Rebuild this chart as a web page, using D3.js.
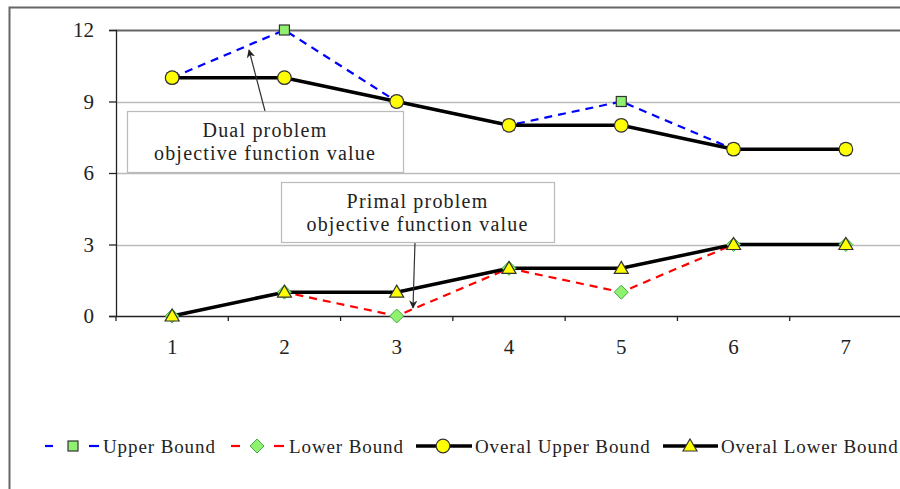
<!DOCTYPE html>
<html>
<head>
<meta charset="utf-8">
<script src="https://d3js.org/d3.v7.min.js"></script>
<style>
  body { margin: 0; background: #fff; }
  svg text { font-family: "Liberation Serif", "DejaVu Serif", serif; fill: #222; }
</style>
</head>
<body>
<div id="chart"></div>
<script>
// Data
var iterations = ["1", "2", "3", "4", "5", "6", "7"];
var upperBound = [10, 12, 9, 8, 9, 7, 7];
var lowerBound = [0, 1, 0, 2, 1, 3, 3];
var overalUpper = [10, 10, 9, 8, 8, 7, 7];
var overalLower = [0, 1, 1, 2, 2, 3, 3];
var yTicks = [0, 3, 6, 9, 12];

var width = 900,
    height = 489,
    plot = { left: 116, top: 30, right: 902, bottom: 316 };

var svg = d3.select("#chart").append("svg")
    .attr("width", width)
    .attr("height", height);

// outer frame (runs off the right / bottom edge like the original)
svg.append("rect")
    .attr("x", 9.5).attr("y", 7.5)
    .attr("width", 1000).attr("height", 1000)
    .attr("fill", "none")
    .attr("stroke", "#666")
    .attr("stroke-width", 2);

var x = d3.scaleBand()
    .domain(iterations)
    .range([plot.left, plot.right]);

var y = d3.scaleLinear()
    .domain([0, 12])
    .range([plot.bottom, plot.top]);

// gridlines
svg.append("g")
  .selectAll("line")
  .data(yTicks.filter(function(d) { return d > 0; }))
  .enter().append("line")
    .attr("x1", plot.left).attr("x2", width)
    .attr("y1", function(d) { return Math.round(y(d)) + 0.5; })
    .attr("y2", function(d) { return Math.round(y(d)) + 0.5; })
    .attr("stroke", function(d) { return d === 12 ? "#666" : "#bbb"; })
    .attr("stroke-width", function(d) { return d === 12 ? 2 : 1.5; });

// y axis
var yAxis = svg.append("g")
    .attr("transform", "translate(" + plot.left + ",0)")
    .call(d3.axisLeft(y).tickValues(yTicks).tickSize(7).tickPadding(15))
    .attr("font-size", 21)
    .attr("font-family", null);
yAxis.selectAll("line, path").attr("stroke", "#222").attr("stroke-width", 1.3);

// x axis
var xAxis = svg.append("g")
    .attr("transform", "translate(0," + plot.bottom + ")")
    .call(d3.axisBottom(x).tickSize(0).tickPadding(23))
    .attr("font-size", 21)
    .attr("font-family", null);
xAxis.select("path").attr("stroke", "#222").attr("stroke-width", 1.3);
// ticks between categories
xAxis.selectAll("line.between")
  .data(iterations)
  .enter().append("line")
    .attr("class", "between")
    .attr("x1", function(d) { return x(d); })
    .attr("x2", function(d) { return x(d); })
    .attr("y1", 0).attr("y2", 5)
    .attr("stroke", "#222").attr("stroke-width", 1.3);

var cx = function(d, i) { return x(iterations[i]) + x.bandwidth() / 2; };
var line = d3.line()
    .x(function(d, i) { return cx(d, i); })
    .y(function(d) { return y(d); });

// series lines
svg.append("path").datum(upperBound)
    .attr("d", line).attr("fill", "none")
    .attr("stroke", "#0000ff").attr("stroke-width", 2.2)
    .attr("stroke-dasharray", "8,6");
svg.append("path").datum(lowerBound)
    .attr("d", line).attr("fill", "none")
    .attr("stroke", "#ff0000").attr("stroke-width", 2.2)
    .attr("stroke-dasharray", "8,6");
svg.append("path").datum(overalUpper)
    .attr("d", line).attr("fill", "none")
    .attr("stroke", "#000").attr("stroke-width", 3.5);
svg.append("path").datum(overalLower)
    .attr("d", line).attr("fill", "none")
    .attr("stroke", "#000").attr("stroke-width", 3.5);

var greenFill = "#90f070",
    yellowFill = "#ffff00",
    markStroke = "#333";

function square(g, px, py) {
  g.append("rect")
      .attr("x", px - 5).attr("y", py - 5)
      .attr("width", 10).attr("height", 10)
      .attr("fill", greenFill).attr("stroke", markStroke).attr("stroke-width", 1.2);
}
function diamond(g, px, py) {
  g.append("path")
      .attr("d", "M" + px + "," + (py - 7) + "L" + (px + 7) + "," + py + "L" + px + "," + (py + 7) + "L" + (px - 7) + "," + py + "Z")
      .attr("fill", greenFill).attr("stroke", "#4a4").attr("stroke-width", 1);
}
function dot(g, px, py) {
  g.append("circle")
      .attr("cx", px).attr("cy", py).attr("r", 6.8)
      .attr("fill", yellowFill).attr("stroke", markStroke).attr("stroke-width", 1.2);
}
function tri(g, px, py) {
  g.append("path")
      .attr("d", "M" + px + "," + (py - 7) + "L" + (px + 7) + "," + (py + 5) + "L" + (px - 7) + "," + (py + 5) + "Z")
      .attr("fill", yellowFill).attr("stroke", markStroke).attr("stroke-width", 1.2);
}

var marks = svg.append("g");
upperBound.forEach(function(d, i) { square(marks, cx(d, i), y(d)); });
lowerBound.forEach(function(d, i) { diamond(marks, cx(d, i), y(d)); });
overalUpper.forEach(function(d, i) { dot(marks, cx(d, i), y(d)); });
overalLower.forEach(function(d, i) { tri(marks, cx(d, i), y(d)); });

// annotation callouts
svg.append("defs").append("marker")
    .attr("id", "arrow")
    .attr("viewBox", "0 0 10 10")
    .attr("refX", 9).attr("refY", 5)
    .attr("markerWidth", 7).attr("markerHeight", 7)
    .attr("orient", "auto")
  .append("path")
    .attr("d", "M0,0L10,5L0,10L3,5Z")
    .attr("fill", "#222");

function callout(bx, by, bw, bh, lines, ax1, ay1, ax2, ay2) {
  svg.append("line")
      .attr("x1", ax1).attr("y1", ay1).attr("x2", ax2).attr("y2", ay2)
      .attr("stroke", "#333").attr("stroke-width", 1.2)
      .attr("marker-end", "url(#arrow)");
  svg.append("rect")
      .attr("x", bx + 0.5).attr("y", by + 0.5)
      .attr("width", bw).attr("height", bh)
      .attr("fill", "#fff").attr("stroke", "#bbb").attr("stroke-width", 1.2);
  svg.append("text")
      .attr("x", bx + bw / 2).attr("y", by + 26)
      .attr("text-anchor", "middle")
      .style("font-size", "20px")
      .style("letter-spacing", "1.2px")
    .selectAll("tspan")
    .data(lines)
    .enter().append("tspan")
      .attr("x", bx + bw / 2)
      .attr("dy", function(d, i) { return i === 0 ? 0 : 23; })
      .text(function(d) { return d; });
}

callout(127, 111, 276, 61, ["Dual problem", "objective function value"],
        265, 111, 249, 50);
callout(281, 182, 273, 60, ["Primal problem", "objective function value"],
        415, 242, 413, 308);

// legend
var legend = svg.append("g").attr("transform", "translate(0,446)");
function legText(px, label) {
  legend.append("text")
      .attr("x", px).attr("y", 6.5)
      .style("font-size", "19px")
      .style("letter-spacing", "0.9px")
      .text(label);
}
function dashSeg(x1, x2, color) {
  legend.append("line")
      .attr("x1", x1).attr("x2", x2).attr("y1", 0).attr("y2", 0)
      .attr("stroke", color).attr("stroke-width", 2.2);
}
dashSeg(45, 53, "#0000ff");
square(legend, 73, 0);
dashSeg(89, 99, "#0000ff");
legText(103, "Upper Bound");

dashSeg(231, 240, "#ff0000");
diamond(legend, 257, 0);
dashSeg(274, 284, "#ff0000");
legText(289, "Lower Bound");

legend.append("line").attr("x1", 416).attr("x2", 472)
    .attr("stroke", "#000").attr("stroke-width", 3.5);
dot(legend, 443, 0);
legText(475, "Overal Upper Bound");

legend.append("line").attr("x1", 663).attr("x2", 718)
    .attr("stroke", "#000").attr("stroke-width", 3.5);
tri(legend, 690, 0);
legText(721, "Overal Lower Bound");
</script>
</body>
</html>
